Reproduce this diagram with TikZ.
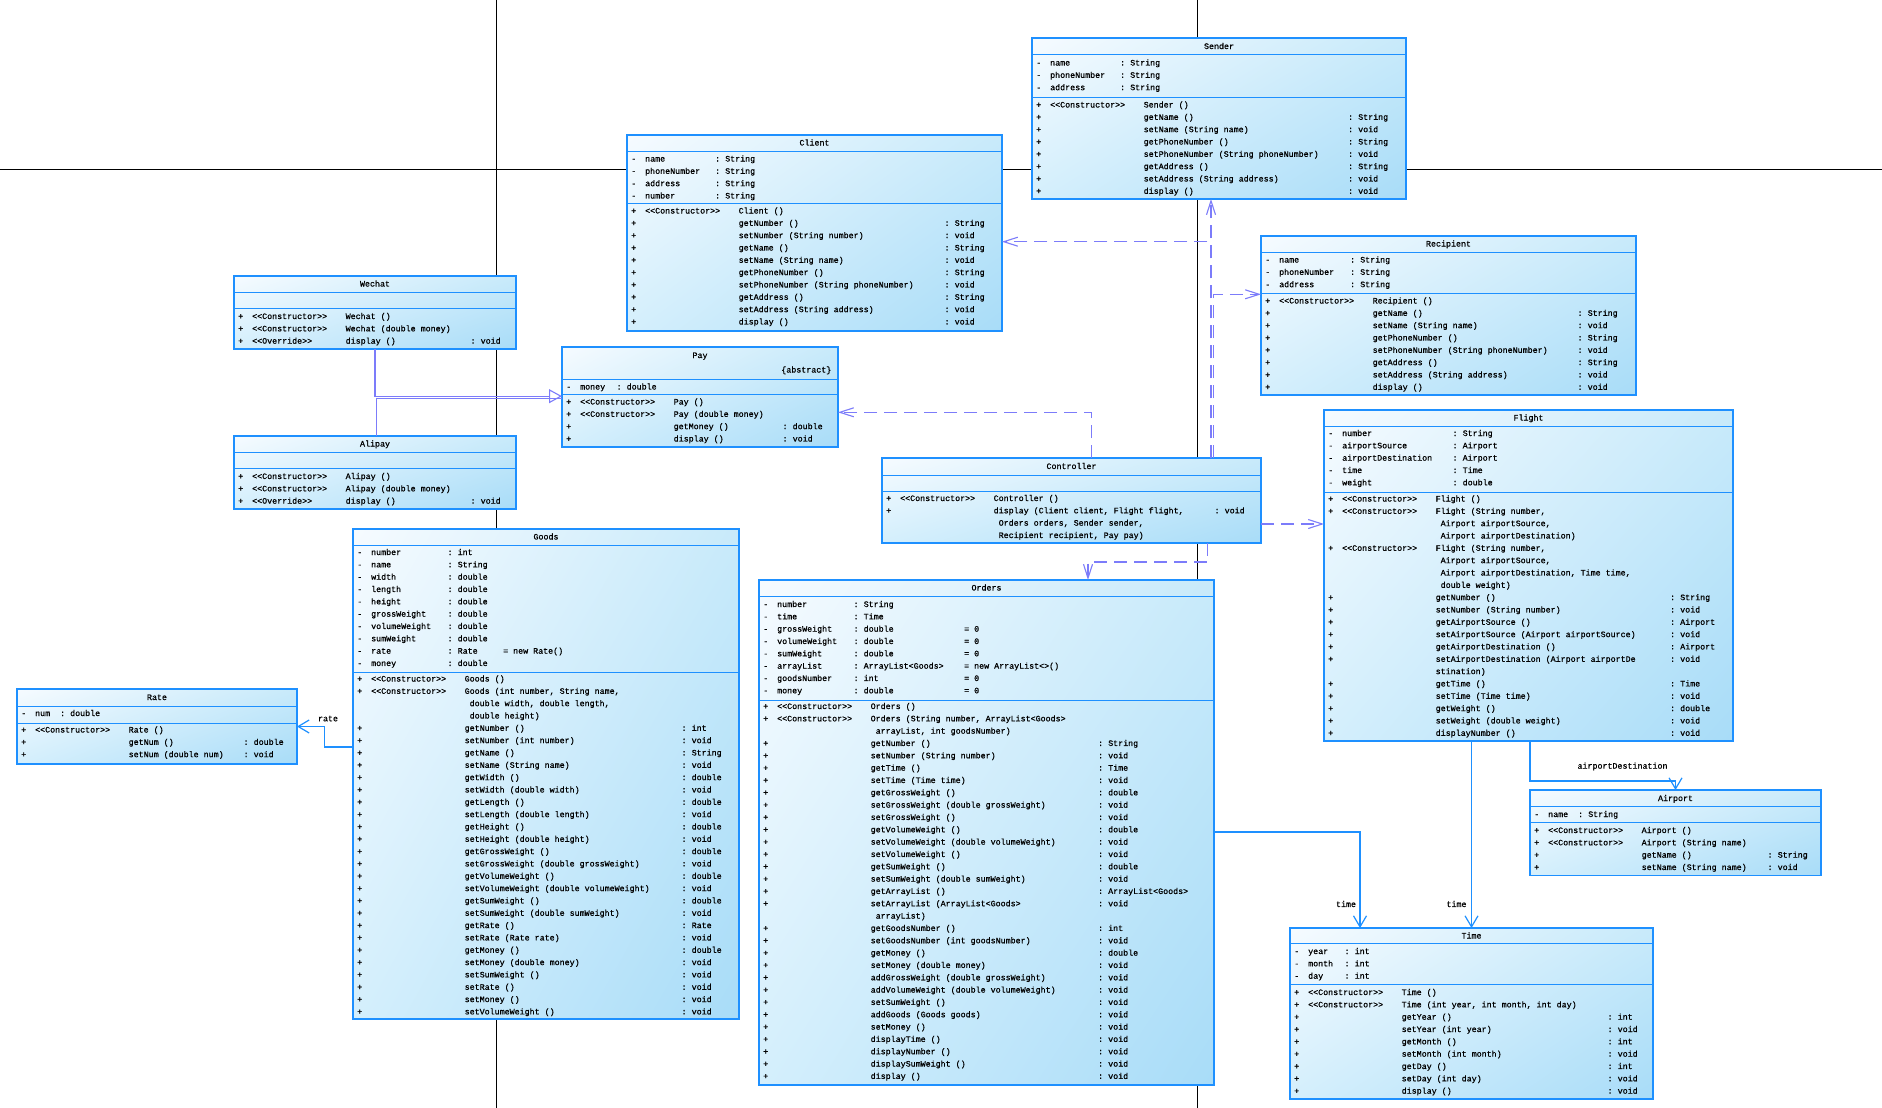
\documentclass[tikz,border=0pt]{standalone}
\usepackage{fontspec}
\setmonofont[FakeBold=0.8]{Liberation Mono}
\usetikzlibrary{arrows.meta, positioning, calc, shadings}

\definecolor{umlblue}{RGB}{30,144,255}
\definecolor{umlpurple}{RGB}{124,124,250}
\definecolor{shadeA}{RGB}{246,251,255}
\definecolor{shadeB}{RGB}{200,234,250}
\definecolor{shadeC}{RGB}{212,239,252}
\definecolor{shadeD}{RGB}{168,220,248}

\newcommand{\umlfont}{\ttfamily\fontsize{8.33}{12.33}\selectfont}

% frame of one class: name, x, y, width, height, first and second divider
\newcommand{\classframe}[7]{%
  \node[classbox, minimum width=#4pt, minimum height=#5pt] (#1) at (#2,#3) {};
  \draw[divider] ($(#1.north west)+(0,#6)$) -- ($(#1.north east)+(0,#6)$);
  \draw[divider] ($(#1.north west)+(0,#7)$) -- ($(#1.north east)+(0,#7)$);
}

\begin{document}
\begin{tikzpicture}[x=1pt, y=-1pt,
  classbox/.style={draw=umlblue, line width=1.2pt, anchor=north west,
                   inner sep=0pt, outer sep=0pt,
                   upper left=shadeA, upper right=shadeB,
                   lower left=shadeC, lower right=shadeD},
  divider/.style={umlblue, line width=1pt},
  title/.style={font=\umlfont, anchor=base, inner sep=0pt},
  members/.style={font=\umlfont, anchor=base west, inner sep=0pt},
  lbl/.style={font=\umlfont, inner sep=0pt},
  pageline/.style={black, line width=0.9pt},
  assoc/.style={umlblue, line width=1.2pt, -{Straight Barb[length=11pt, width=13pt]}},
  depend/.style={umlpurple, line width=1.1pt, dash pattern=on 13pt off 7pt,
                 -{Straight Barb[length=14pt, width=9pt]}},
  inherit/.style={umlpurple, line width=1.1pt, -{Triangle[open, length=13pt, width=14pt]}},
  inheritline/.style={umlpurple, line width=1.1pt}]

  \useasboundingbox (0,0) rectangle (1882,1108);
  \fill[white] (0,0) rectangle (1882,1108);

  % page borders of the modelling tool
  \draw[pageline] (0,169) -- (1882,169);
  \draw[pageline] (496,0) -- (496,1108);
  \draw[pageline] (1197,0) -- (1197,1108);

  % Sender
  \classframe{sender}{1032}{38}{374}{161}{17}{59}
  \node[title] (sender-name) at ($(sender.north)+(0,11)$) {Sender};
  \node[members] (sender-attr) at ($(sender.north west)+(4,27.5)$) {%
    \begin{tabular}[t]{@{}p{14pt}@{}p{70pt}@{}l@{}}
    - & name & : String\\
    - & phoneNumber & : String\\
    - & address & : String
    \end{tabular}};
  \node[members] (sender-ops) at ($(sender.north west)+(4,69.5)$) {%
    \begin{tabular}[t]{@{}p{14pt}@{}p{93.5pt}@{}p{204.5pt}@{}l@{}}
    + & <<Constructor>> & Sender () & \\
    + & & getName () & : String\\
    + & & setName (String name) & : void\\
    + & & getPhoneNumber () & : String\\
    + & & setPhoneNumber (String phoneNumber) & : void\\
    + & & getAddress () & : String\\
    + & & setAddress (String address) & : void\\
    + & & display () & : void
    \end{tabular}};

  % Client
  \classframe{client}{627}{135}{375}{196}{16}{68}
  \node[title] (client-name) at ($(client.north)+(0,10.5)$) {Client};
  \node[members] (client-attr) at ($(client.north west)+(4,26.5)$) {%
    \begin{tabular}[t]{@{}p{14pt}@{}p{70pt}@{}l@{}}
    - & name & : String\\
    - & phoneNumber & : String\\
    - & address & : String\\
    - & number & : String
    \end{tabular}};
  \node[members] (client-ops) at ($(client.north west)+(4,78.5)$) {%
    \begin{tabular}[t]{@{}p{14pt}@{}p{93.5pt}@{}p{206pt}@{}l@{}}
    + & <<Constructor>> & Client () & \\
    + & & getNumber () & : String\\
    + & & setNumber (String number) & : void\\
    + & & getName () & : String\\
    + & & setName (String name) & : void\\
    + & & getPhoneNumber () & : String\\
    + & & setPhoneNumber (String phoneNumber) & : void\\
    + & & getAddress () & : String\\
    + & & setAddress (String address) & : void\\
    + & & display () & : void
    \end{tabular}};

  % Recipient
  \classframe{recipient}{1261}{236}{375}{159}{16}{57}
  \node[title] (recipient-name) at ($(recipient.north)+(0,10.5)$) {Recipient};
  \node[members] (recipient-attr) at ($(recipient.north west)+(4,26.5)$) {%
    \begin{tabular}[t]{@{}p{14pt}@{}p{71pt}@{}l@{}}
    - & name & : String\\
    - & phoneNumber & : String\\
    - & address & : String
    \end{tabular}};
  \node[members] (recipient-ops) at ($(recipient.north west)+(4,67.5)$) {%
    \begin{tabular}[t]{@{}p{14pt}@{}p{93.5pt}@{}p{205pt}@{}l@{}}
    + & <<Constructor>> & Recipient () & \\
    + & & getName () & : String\\
    + & & setName (String name) & : void\\
    + & & getPhoneNumber () & : String\\
    + & & setPhoneNumber (String phoneNumber) & : void\\
    + & & getAddress () & : String\\
    + & & setAddress (String address) & : void\\
    + & & display () & : void
    \end{tabular}};

  % Wechat
  \classframe{wechat}{234}{276}{282}{73}{16}{32}
  \node[title] (wechat-name) at ($(wechat.north)+(0,10.5)$) {Wechat};
  \node[members] (wechat-ops) at ($(wechat.north west)+(4,43)$) {%
    \begin{tabular}[t]{@{}p{14pt}@{}p{93.5pt}@{}p{125pt}@{}l@{}}
    + & <<Constructor>> & Wechat () & \\
    + & <<Constructor>> & Wechat (double money) & \\
    + & <<Override>> & display () & : void
    \end{tabular}};

  % Alipay
  \classframe{alipay}{234}{436}{282}{73}{16}{32}
  \node[title] (alipay-name) at ($(alipay.north)+(0,10.5)$) {Alipay};
  \node[members] (alipay-ops) at ($(alipay.north west)+(4,43)$) {%
    \begin{tabular}[t]{@{}p{14pt}@{}p{93.5pt}@{}p{125pt}@{}l@{}}
    + & <<Constructor>> & Alipay () & \\
    + & <<Constructor>> & Alipay (double money) & \\
    + & <<Override>> & display () & : void
    \end{tabular}};

  % Pay
  \classframe{pay}{562}{347}{276}{100}{32}{47}
  \node[title] (pay-name) at ($(pay.north)+(0,11)$) {Pay};
  \node[title, anchor=base east] (pay-abstract) at ($(pay.north east)+(-6.5,25.5)$) {\{abstract\}};
  \node[members] (pay-attr) at ($(pay.north west)+(4,42.5)$) {%
    \begin{tabular}[t]{@{}p{14pt}@{}p{36.5pt}@{}l@{}}
    - & money & : double
    \end{tabular}};
  \node[members] (pay-ops) at ($(pay.north west)+(4,57.5)$) {%
    \begin{tabular}[t]{@{}p{14pt}@{}p{93.5pt}@{}p{109pt}@{}l@{}}
    + & <<Constructor>> & Pay () & \\
    + & <<Constructor>> & Pay (double money) & \\
    + & & getMoney () & : double\\
    + & & display () & : void
    \end{tabular}};

  % Controller
  \classframe{controller}{882}{458}{379}{85}{17}{33}
  \node[title] (controller-name) at ($(controller.north)+(0,11)$) {Controller};
  \node[members] (controller-ops) at ($(controller.north west)+(4,43)$) {%
    \begin{tabular}[t]{@{}p{14pt}@{}p{93.5pt}@{}p{221pt}@{}l@{}}
    + & <<Constructor>> & Controller () & \\
    + & & display (Client client, Flight flight, & : void\\
      & & ~Orders orders, Sender sender, & \\
      & & ~Recipient recipient, Pay pay) &
    \end{tabular}};

  % Flight
  \classframe{flight}{1324}{410}{409}{331}{16}{82}
  \node[title] (flight-name) at ($(flight.north)+(0,10.5)$) {Flight};
  \node[members] (flight-attr) at ($(flight.north west)+(4,26)$) {%
    \begin{tabular}[t]{@{}p{14pt}@{}p{110.5pt}@{}l@{}}
    - & number & : String\\
    - & airportSource & : Airport\\
    - & airportDestination & : Airport\\
    - & time & : Time\\
    - & weight & : double
    \end{tabular}};
  \node[members] (flight-ops) at ($(flight.north west)+(4,91.5)$) {%
    \begin{tabular}[t]{@{}p{14pt}@{}p{93.5pt}@{}p{234.5pt}@{}l@{}}
    + & <<Constructor>> & Flight () & \\
    + & <<Constructor>> & Flight (String number, & \\
      & & ~Airport airportSource, & \\
      & & ~Airport airportDestination) & \\
    + & <<Constructor>> & Flight (String number, & \\
      & & ~Airport airportSource, & \\
      & & ~Airport airportDestination, Time time, & \\
      & & ~double weight) & \\
    + & & getNumber () & : String\\
    + & & setNumber (String number) & : void\\
    + & & getAirportSource () & : Airport\\
    + & & setAirportSource (Airport airportSource) & : void\\
    + & & getAirportDestination () & : Airport\\
    + & & setAirportDestination (Airport airportDe & : void\\
      & & stination) & \\
    + & & getTime () & : Time\\
    + & & setTime (Time time) & : void\\
    + & & getWeight () & : double\\
    + & & setWeight (double weight) & : void\\
    + & & displayNumber () & : void
    \end{tabular}};

  % Goods
  \classframe{goods}{353}{529}{386}{490}{16}{143}
  \node[title] (goods-name) at ($(goods.north)+(0,10.5)$) {Goods};
  \node[members] (goods-attr) at ($(goods.north west)+(4,26)$) {%
    \begin{tabular}[t]{@{}p{14pt}@{}p{76.5pt}@{}p{55.5pt}@{}l@{}}
    - & number & : int & \\
    - & name & : String & \\
    - & width & : double & \\
    - & length & : double & \\
    - & height & : double & \\
    - & grossWeight & : double & \\
    - & volumeWeight & : double & \\
    - & sumWeight & : double & \\
    - & rate & : Rate & = new Rate()\\
    - & money & : double &
    \end{tabular}};
  \node[members] (goods-ops) at ($(goods.north west)+(4,152.5)$) {%
    \begin{tabular}[t]{@{}p{14pt}@{}p{93.5pt}@{}p{217pt}@{}l@{}}
    + & <<Constructor>> & Goods () & \\
    + & <<Constructor>> & Goods (int number, String name, & \\
      & & ~double width, double length, & \\
      & & ~double height) & \\
    + & & getNumber () & : int\\
    + & & setNumber (int number) & : void\\
    + & & getName () & : String\\
    + & & setName (String name) & : void\\
    + & & getWidth () & : double\\
    + & & setWidth (double width) & : void\\
    + & & getLength () & : double\\
    + & & setLength (double length) & : void\\
    + & & getHeight () & : double\\
    + & & setHeight (double height) & : void\\
    + & & getGrossWeight () & : double\\
    + & & setGrossWeight (double grossWeight) & : void\\
    + & & getVolumeWeight () & : double\\
    + & & setVolumeWeight (double volumeWeight) & : void\\
    + & & getSumWeight () & : double\\
    + & & setSumWeight (double sumWeight) & : void\\
    + & & getRate () & : Rate\\
    + & & setRate (Rate rate) & : void\\
    + & & getMoney () & : double\\
    + & & setMoney (double money) & : void\\
    + & & setSumWeight () & : void\\
    + & & setRate () & : void\\
    + & & setMoney () & : void\\
    + & & setVolumeWeight () & : void
    \end{tabular}};

  % Rate
  \classframe{rate}{17}{689}{280}{75}{17}{34}
  \node[title] (rate-name) at ($(rate.north)+(0,11)$) {Rate};
  \node[members] (rate-attr) at ($(rate.north west)+(4,27)$) {%
    \begin{tabular}[t]{@{}p{14pt}@{}p{25pt}@{}l@{}}
    - & num & : double
    \end{tabular}};
  \node[members] (rate-ops) at ($(rate.north west)+(4,43.5)$) {%
    \begin{tabular}[t]{@{}p{14pt}@{}p{93.5pt}@{}p{115pt}@{}l@{}}
    + & <<Constructor>> & Rate () & \\
    + & & getNum () & : double\\
    + & & setNum (double num) & : void
    \end{tabular}};

  % Orders
  \classframe{orders}{759}{580}{455}{505}{16}{120}
  \node[title] (orders-name) at ($(orders.north)+(0,10.5)$) {Orders};
  \node[members] (orders-attr) at ($(orders.north west)+(4,27)$) {%
    \begin{tabular}[t]{@{}p{14pt}@{}p{76.5pt}@{}p{110.5pt}@{}l@{}}
    - & number & : String & \\
    - & time & : Time & \\
    - & grossWeight & : double & = 0\\
    - & volumeWeight & : double & = 0\\
    - & sumWeight & : double & = 0\\
    - & arrayList & : ArrayList<Goods> & = new ArrayList<>()\\
    - & goodsNumber & : int & = 0\\
    - & money & : double & = 0
    \end{tabular}};
  \node[members] (orders-ops) at ($(orders.north west)+(4,129)$) {%
    \begin{tabular}[t]{@{}p{14pt}@{}p{93.5pt}@{}p{227.5pt}@{}l@{}}
    + & <<Constructor>> & Orders () & \\
    + & <<Constructor>> & Orders (String number, ArrayList<Goods> & \\
      & & ~arrayList, int goodsNumber) & \\
    + & & getNumber () & : String\\
    + & & setNumber (String number) & : void\\
    + & & getTime () & : Time\\
    + & & setTime (Time time) & : void\\
    + & & getGrossWeight () & : double\\
    + & & setGrossWeight (double grossWeight) & : void\\
    + & & setGrossWeight () & : void\\
    + & & getVolumeWeight () & : double\\
    + & & setVolumeWeight (double volumeWeight) & : void\\
    + & & setVolumeWeight () & : void\\
    + & & getSumWeight () & : double\\
    + & & setSumWeight (double sumWeight) & : void\\
    + & & getArrayList () & : ArrayList<Goods>\\
    + & & setArrayList (ArrayList<Goods> & : void\\
      & & ~arrayList) & \\
    + & & getGoodsNumber () & : int\\
    + & & setGoodsNumber (int goodsNumber) & : void\\
    + & & getMoney () & : double\\
    + & & setMoney (double money) & : void\\
    + & & addGrossWeight (double grossWeight) & : void\\
    + & & addVolumeWeight (double volumeWeight) & : void\\
    + & & setSumWeight () & : void\\
    + & & addGoods (Goods goods) & : void\\
    + & & setMoney () & : void\\
    + & & displayTime () & : void\\
    + & & displayNumber () & : void\\
    + & & displaySumWeight () & : void\\
    + & & display () & : void
    \end{tabular}};

  % Airport
  \classframe{airport}{1530}{790}{291}{85.5}{16.5}{32.5}
  \node[title] (airport-name) at ($(airport.north)+(0,11)$) {Airport};
  \node[members] (airport-attr) at ($(airport.north west)+(4,27)$) {%
    \begin{tabular}[t]{@{}p{14pt}@{}p{30pt}@{}l@{}}
    - & name & : String
    \end{tabular}};
  \node[members] (airport-ops) at ($(airport.north west)+(4,43)$) {%
    \begin{tabular}[t]{@{}p{14pt}@{}p{93.5pt}@{}p{126pt}@{}l@{}}
    + & <<Constructor>> & Airport () & \\
    + & <<Constructor>> & Airport (String name) & \\
    + & & getName () & : String\\
    + & & setName (String name) & : void
    \end{tabular}};

  % Time
  \classframe{time}{1290}{928}{363}{171}{15.5}{56.5}
  \node[title] (time-name) at ($(time.north)+(0,10.5)$) {Time};
  \node[members] (time-attr) at ($(time.north west)+(4,26)$) {%
    \begin{tabular}[t]{@{}p{14pt}@{}p{36.5pt}@{}l@{}}
    - & year & : int\\
    - & month & : int\\
    - & day & : int
    \end{tabular}};
  \node[members] (time-ops) at ($(time.north west)+(4,67)$) {%
    \begin{tabular}[t]{@{}p{14pt}@{}p{93.5pt}@{}p{206pt}@{}l@{}}
    + & <<Constructor>> & Time () & \\
    + & <<Constructor>> & Time (int year, int month, int day) & \\
    + & & getYear () & : int\\
    + & & setYear (int year) & : void\\
    + & & getMonth () & : int\\
    + & & setMonth (int month) & : void\\
    + & & getDay () & : int\\
    + & & setDay (int day) & : void\\
    + & & display () & : void
    \end{tabular}};

  % generalisation Wechat, Alipay -> Pay
  \draw[inherit] (wechat.south) |- ($(pay.west)+(0,-0.8)$);
  \draw[inheritline] ($(alipay.north)+(1.2,0)$) |- ($(pay.west)+(0,1.2)$);

  % dependencies of the controller
  \coordinate (ctrl-pay) at ($(controller.north west)+(209.5,0)$);
  \coordinate (ctrl-client) at ($(controller.north west)+(329,0)$);
  \coordinate (ctrl-sender) at ($(controller.north west)+(329,0)$);
  \coordinate (ctrl-recipient) at ($(controller.north west)+(331.5,0)$);
  \coordinate (ctrl-orders) at ($(controller.south west)+(325.5,0)$);
  \draw[depend] (ctrl-pay) |- ($(pay.north east)+(0,65.3)$);
  \draw[depend] (ctrl-client) |- ($(client.north east)+(0,106.7)$);
  \draw[depend] (ctrl-sender) -- (ctrl-sender |- sender.south);
  \draw[depend] (ctrl-recipient) |- ($(recipient.north west)+(0,58.3)$);
  \draw[depend] ($(controller.north east)+(0,66)$) -- ($(flight.north west)+(0,114)$);
  \draw[depend] (ctrl-orders) -- ++(0,19) -| ($(orders.north west)+(329,0)$);

  % associations
  \draw[assoc] ($(goods.north west)+(0,218)$) -- ++(-28.5,0) |- (rate.east);
  \node[lbl] (rate-role) at ($(rate.east)+(31,-8)$) {rate};
  \draw[assoc] ($(orders.north east)+(0,252)$) -| ($(time.north west)+(70,0)$);
  \node[lbl] (orders-time-role) at ($(time.north west)+(56,-24)$) {time};
  \draw[assoc] (flight.south -| time.north) -- (time.north);
  \node[lbl] (flight-time-role) at ($(time.north)+(-15,-24)$) {time};
  \draw[assoc] (flight.south -| airport.west) -- ++(0,40) -| (airport.north);
  \node[lbl] (airport-role) at ($(airport.north)+(-53,-23.5)$) {airportDestination};
\end{tikzpicture}
\end{document}
